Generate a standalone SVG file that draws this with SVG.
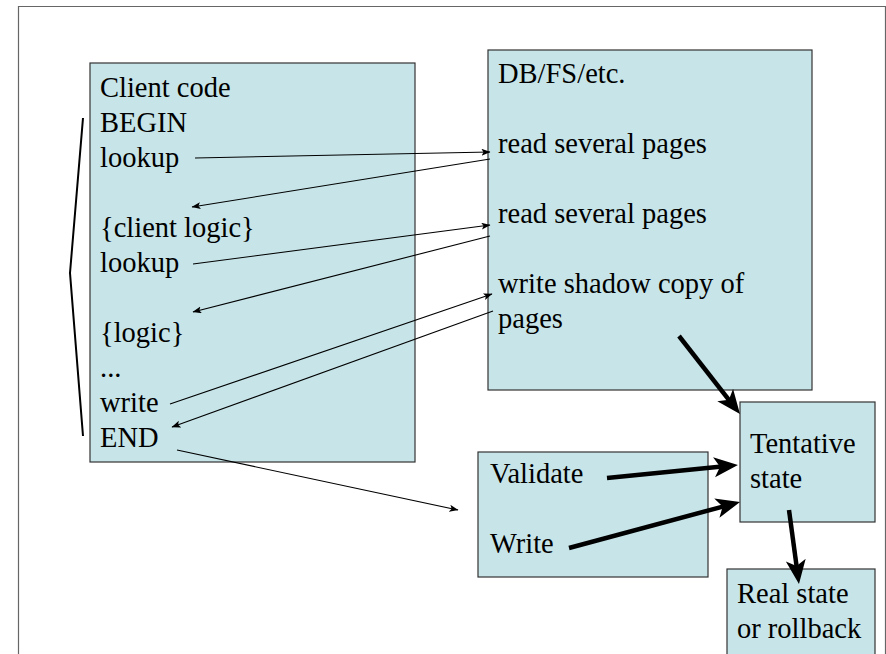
<svg xmlns="http://www.w3.org/2000/svg" width="886" height="654" viewBox="0 0 886 654">
<style>
.box{fill:#c7e5e9;stroke:#333;stroke-width:1.2}
.t{font-family:"Liberation Serif","Times New Roman",Times,serif;font-size:28.5px;fill:#000}
.thin{stroke:#000;stroke-width:1.1;fill:none;marker-end:url(#ah)}
.thick{stroke:#000;stroke-width:4.5;fill:none;marker-end:url(#ahb)}
</style>
<defs>
<marker id="ah" markerUnits="userSpaceOnUse" markerWidth="10" markerHeight="8" refX="8.5" refY="3.5" orient="auto">
<path d="M0,0 L9,3.5 L0,7 L2,3.5 z" fill="#000"/>
</marker>
<marker id="ahb" markerUnits="userSpaceOnUse" viewBox="0 0 26 22" markerWidth="26" markerHeight="22" refX="13" refY="10" orient="auto">
<path d="M0,0 L24,10 L0,20 L6,10 z" fill="#000"/>
</marker>
</defs>
<rect width="886" height="654" fill="#fff"/>
<path d="M18.5,654 V6.5 H885.5 V654" fill="none" stroke="#666" stroke-width="1.2"/>

<g id="client">
<rect class="box" x="90" y="63" width="325" height="399"/>
<text class="t" x="100" y="97">Client code</text>
<text class="t" x="100" y="132">BEGIN</text>
<text class="t" x="100" y="167">lookup</text>
<text class="t" x="100" y="237">{client logic}</text>
<text class="t" x="100" y="272">lookup</text>
<text class="t" x="100" y="342">{logic}</text>
<text class="t" x="100" y="377">...</text>
<text class="t" x="100" y="412">write</text>
<text class="t" x="100" y="447">END</text>
</g>

<g id="bracket">
<path d="M83,118 L70,273 L83,436" fill="none" stroke="#000" stroke-width="2"/>
</g>

<g id="db">
<rect class="box" x="488" y="50" width="324" height="340"/>
<text class="t" x="498" y="83">DB/FS/etc.</text>
<text class="t" x="498" y="153">read several pages</text>
<text class="t" x="498" y="223">read several pages</text>
<text class="t" x="498" y="293">write shadow copy of</text>
<text class="t" x="498" y="328">pages</text>
</g>

<g id="tentative">
<rect class="box" x="740" y="402" width="135" height="120"/>
<text class="t" x="750" y="453">Tentative</text>
<text class="t" x="750" y="488">state</text>
</g>

<g id="commit">
<rect class="box" x="478" y="452" width="230" height="125"/>
<text class="t" x="490" y="483">Validate</text>
<text class="t" x="490" y="553">Write</text>
</g>

<g id="real">
<rect class="box" x="727" y="569" width="148" height="95"/>
<text class="t" x="737" y="603">Real state</text>
<text class="t" x="737" y="638">or rollback</text>
</g>

<g id="connectors">
<path class="thin" d="M195,158 L490,152"/>
<path class="thin" d="M490,159 L192,207"/>
<path class="thin" d="M193,264 L490,225"/>
<path class="thin" d="M490,236 L193,312"/>
<path class="thin" d="M170,404 L492,294"/>
<path class="thin" d="M493,311 L172,427"/>
<path class="thin" d="M177,450 L458,510"/>
<path class="thick" d="M679,336 L733.2,405.3"/>
<path class="thick" d="M607,478 L727,466"/>
<path class="thick" d="M569,548 L729.4,504.8"/>
<path class="thick" d="M789,510 L797.5,573"/>
</g>
</svg>
